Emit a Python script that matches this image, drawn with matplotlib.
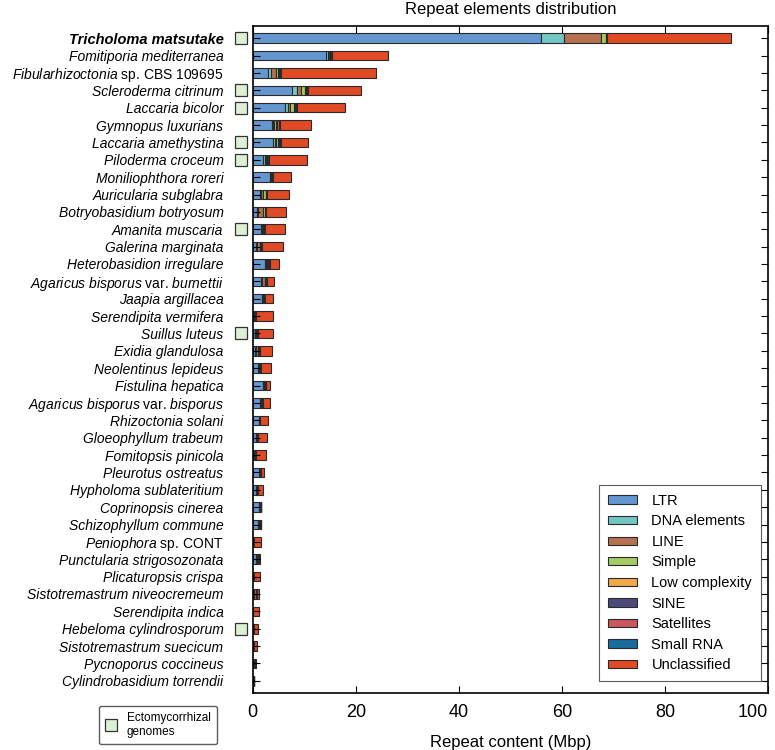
import matplotlib
matplotlib.use('Agg')
import matplotlib.pyplot as plt
import matplotlib.transforms as mtransforms
from matplotlib.lines import Line2D
import numpy as np

plt.rcParams['font.family'] = ['Liberation Sans', 'DejaVu Sans']
plt.rcParams['mathtext.fontset'] = 'custom'
plt.rcParams['mathtext.it'] = 'Liberation Sans:italic'
plt.rcParams['mathtext.rm'] = 'Liberation Sans'

species = [
    "Tricholoma matsutake",
    "Fomitiporia mediterranea",
    r"$\mathit{Fibularhizoctonia}$ sp. CBS 109695",
    "Scleroderma citrinum",
    "Laccaria bicolor",
    "Gymnopus luxurians",
    "Laccaria amethystina",
    "Piloderma croceum",
    "Moniliophthora roreri",
    "Auricularia subglabra",
    "Botryobasidium botryosum",
    "Amanita muscaria",
    "Galerina marginata",
    "Heterobasidion irregulare",
    r"$\mathit{Agaricus\ bisporus}$ var. $\mathit{burnettii}$",
    "Jaapia argillacea",
    "Serendipita vermifera",
    "Suillus luteus",
    "Exidia glandulosa",
    "Neolentinus lepideus",
    "Fistulina hepatica",
    r"$\mathit{Agaricus\ bisporus}$ var. $\mathit{bisporus}$",
    "Rhizoctonia solani",
    "Gloeophyllum trabeum",
    "Fomitopsis pinicola",
    "Pleurotus ostreatus",
    "Hypholoma sublateritium",
    "Coprinopsis cinerea",
    "Schizophyllum commune",
    r"$\mathit{Peniophora}$ sp. CONT",
    "Punctularia strigosozonata",
    "Plicaturopsis crispa",
    "Sistotremastrum niveocremeum",
    "Serendipita indica",
    "Hebeloma cylindrosporum",
    "Sistotremastrum suecicum",
    "Pycnoporus coccineus",
    "Cylindrobasidium torrendii",
]

ecm = [
    "Tricholoma matsutake", "Scleroderma citrinum", "Laccaria bicolor",
    "Laccaria amethystina", "Piloderma croceum", "Amanita muscaria",
    "Suillus luteus", "Hebeloma cylindrosporum",
]

categories = ["LTR", "DNA elements", "LINE", "Simple", "Low complexity",
              "SINE", "Satellites", "Small RNA", "Unclassified"]
colors = ["#6497CF", "#72C7C5", "#B5704F", "#A5CC62", "#F0A848",
          "#4B4A7A", "#C9575E", "#1A6C9A", "#E04A25"]

# Mbp per category, same order as species
ltr = [56.0, 14.3, 2.9, 7.6, 6.2, 3.8, 3.9, 2.0, 3.4, 1.4, 0.9, 1.7, 0.7,
       2.3, 1.7, 1.8, 0.3, 0.4, 0.5, 1.1, 2.0, 1.5, 1.2, 0.7, 0.3, 1.3,
       0.6, 1.3, 1.0, 0.1, 0.7, 0.1, 0.2, 0.05, 0.1, 0.05, 0.2, 0.1]
dna = [4.5, 0.4, 0.7, 1.1, 0.7, 0.2, 0.4, 0.4, 0.1, 0.2, 0.2, 0.1, 0.1,
       0.3, 0.1, 0.1, 0.05, 0.1, 0.1, 0.1, 0.1, 0.05, 0.05, 0.05, 0.05, 0.05,
       0.05, 0.05, 0.1, 0.0, 0.05, 0.0, 0.0, 0.0, 0.0, 0.0, 0.0, 0.0]
line = [7.0, 0.1, 0.9, 0.6, 0.4, 0.2, 0.2, 0.2, 0.1, 0.5, 0.9, 0.1, 0.6,
        0.1, 0.6, 0.1, 0.05, 0.2, 0.4, 0.1, 0.1, 0.3, 0.1, 0.1, 0.2, 0.2,
        0.2, 0.2, 0.2, 0.1, 0.3, 0.1, 0.4, 0.0, 0.1, 0.05, 0.2, 0.05]
simple = [1.0, 0.2, 0.5, 0.8, 0.8, 0.4, 0.4, 0.2, 0.1, 0.4, 0.3, 0.1, 0.2,
          0.3, 0.1, 0.1, 0.05, 0.1, 0.2, 0.1, 0.1, 0.05, 0.05, 0.05, 0.05,
          0.05, 0.05, 0.05, 0.1, 0.05, 0.1, 0.05, 0.1, 0.05, 0.05, 0.05,
          0.05, 0.05]
low_cx = [0.1, 0.1, 0.2, 0.2, 0.2, 0.1, 0.2, 0.1, 0.1, 0.1, 0.1, 0.1, 0.1,
          0.1, 0.1, 0.05, 0.05, 0.05, 0.05, 0.05, 0.05, 0.05, 0.05, 0.05,
          0.05, 0.05, 0.05, 0.05, 0.05, 0.05, 0.05, 0.05, 0.05, 0.05, 0.05,
          0.05, 0.05, 0.0]
sine = [0.1, 0.1, 0.2, 0.2, 0.2, 0.1, 0.2, 0.1, 0.1, 0.1, 0.1, 0.1, 0.1,
        0.1, 0.1, 0.05, 0.05, 0.05, 0.05, 0.1, 0.1, 0.1, 0.05, 0.05, 0.05,
        0.05, 0.05, 0.05, 0.1, 0.0, 0.1, 0.0, 0.0, 0.0, 0.0, 0.0, 0.05, 0.0]
satellites = [0.1, 0.1, 0.1, 0.1, 0.1, 0.4, 0.1, 0.1, 0.05, 0.05, 0.05, 0.05,
              0.05, 0.05, 0.05, 0.05, 0.05, 0.05, 0.05, 0.05, 0.05, 0.05,
              0.0, 0.0, 0.0, 0.0, 0.0, 0.0, 0.0, 0.0, 0.0, 0.0, 0.0, 0.0,
              0.0, 0.0, 0.0, 0.0]
small_rna = [0.05, 0.05, 0.05, 0.05, 0.05, 0.05, 0.05, 0.05, 0.05, 0.05,
             0.05, 0.05, 0.05, 0.05, 0.05, 0.05, 0.0, 0.05, 0.0, 0.0, 0.0,
             0.0, 0.0, 0.0, 0.0, 0.0, 0.0, 0.0, 0.0, 0.0, 0.0, 0.0, 0.0,
             0.0, 0.0, 0.0, 0.0, 0.0]
unclassified = [24.0, 11.0, 18.3, 10.3, 9.3, 6.0, 5.2, 7.4, 3.4, 4.2, 3.8,
                3.9, 3.9, 1.8, 1.3, 1.7, 3.4, 2.9, 2.45, 2.0, 0.9, 1.2, 1.5,
                1.8, 1.9, 0.5, 1.1, 0.0, 0.05, 1.3, 0.1, 1.1, 0.55, 1.15,
                0.7, 0.6, 0.15, 0.1]

series = [ltr, dna, line, simple, low_cx, sine, satellites, small_rna,
          unclassified]

fig = plt.figure(figsize=(7.75, 7.5), dpi=100)
ax = fig.add_axes([0.326, 0.076, 0.665, 0.8893])

y = np.arange(len(species))
left = np.zeros(len(species))
for name, vals, col in zip(categories, series, colors):
    vals = np.array(vals)
    ax.barh(y, vals, left=left, height=0.55, color=col, edgecolor='#2a2a2a',
            linewidth=0.8, label=name)
    left += vals

ax.set_ylim(len(species) - 1 + 0.7, -0.7)
ax.set_xlim(0, 100)
ax.set_xticks([0, 20, 40, 60, 80, 100])
ax.set_yticks(y)
ax.set_yticklabels(species, fontsize=10)
for lab in ax.get_yticklabels():
    txt = lab.get_text()
    if txt.startswith('$'):
        continue
    lab.set_style('italic')
    if txt == "Tricholoma matsutake":
        lab.set_weight('bold')
        lab.set_fontsize(10.5)

ax.tick_params(direction='in', top=True, right=True, length=5, width=0.8)
ax.tick_params(axis='x', labelsize=13, pad=8)
ax.tick_params(axis='y', pad=21)
ax.get_xticklabels()[-1].set_ha('right')
for sp in ax.spines.values():
    sp.set_linewidth(1.2)

ax.set_title("Repeat elements distribution", fontsize=12, pad=9)
ax.set_xlabel("Repeat content (Mbp)", fontsize=12, labelpad=10)

# ectomycorrhizal markers next to the names
trans = mtransforms.blended_transform_factory(ax.transAxes, ax.transData)
ecm_y = [i for i, s in enumerate(species) if s in ecm]
ax.plot([-0.023] * len(ecm_y), ecm_y, ls='', marker='s', markersize=8,
        mfc='#DDF0D5', mec='#333333', mew=0.9, transform=trans, clip_on=False)

leg = ax.legend(loc='lower right', bbox_to_anchor=(0.986, 0.018),
                borderaxespad=0, fontsize=10.5, fancybox=False,
                edgecolor='#333333', handlelength=2.0, handleheight=0.5,
                labelspacing=0.45, borderpad=0.6, handletextpad=1.0)
leg.get_frame().set_linewidth(0.8)

ecm_handle = Line2D([], [], ls='', marker='s', markersize=9,
                    mfc='#DDF0D5', mec='#333333', mew=0.9)
fig.legend(handles=[ecm_handle], labels=["Ectomycorrhizal\ngenomes"],
           loc='center', bbox_to_anchor=(158 / 775, 1 - 725 / 750),
           fontsize=8.5, fancybox=True, edgecolor='#333333',
           handlelength=1.0, handletextpad=0.8, borderpad=0.55)

fig.savefig("out.png", dpi=100)
